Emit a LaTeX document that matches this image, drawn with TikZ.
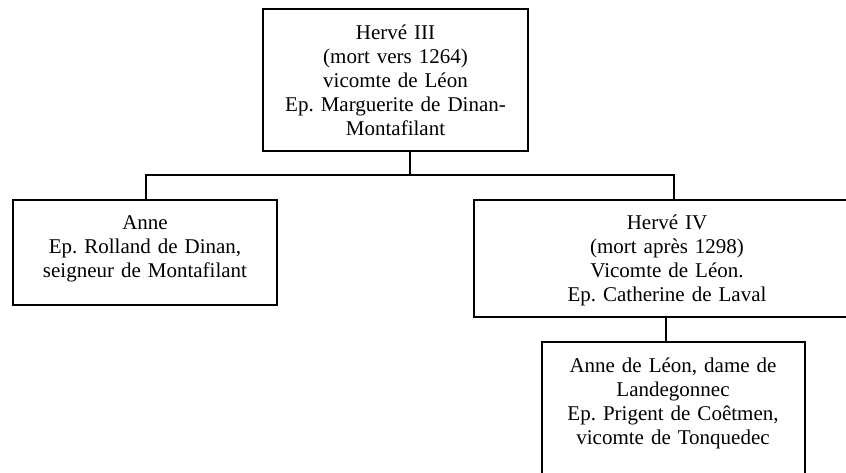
\documentclass[tikz,border=0pt]{standalone}
\usepackage{fontspec}
\setmainfont{Liberation Serif}
\frenchspacing
\begin{document}
\begin{tikzpicture}[x=1pt,y=-1pt,
  famille/.style={draw=black, line width=1.5pt, rectangle, inner sep=0pt, fill=none},
  nom/.style={anchor=base, inner sep=0pt, text width=300pt, align=center,
              font=\fontsize{21}{24}\selectfont},
  lien/.style={draw=black, line width=1.5pt}]
\useasboundingbox (0,0) rectangle (846,472);
\clip (0,0) rectangle (846,472);
\fill[white] (0,0) rectangle (846,472);

% Boxes of the family tree
\node[famille, minimum width=265pt, minimum height=142pt] (herve3) at (395.5,80) {};
\node[famille, minimum width=264pt, minimum height=105pt] (anne) at (145,252.5) {};
\node[famille, minimum width=386pt, minimum height=117pt] (herve4) at (667,258.5) {};
\node[famille, minimum width=263pt, minimum height=148pt] (anneleon) at (673.5,416) {};

% Names and titles
\node[nom] (t3) at (395.5,39) {Hervé III\\(mort vers 1264)\\vicomte de Léon\\Ep. Marguerite de Dinan-\\Montafilant};
\node[nom] (ta) at (145,229) {Anne\\Ep. Rolland de Dinan,\\seigneur de Montafilant};
\node[nom] (t4) at (667,229) {Hervé IV\\(mort après 1298)\\Vicomte de Léon.\\Ep. Catherine de Laval};
\node[nom] (tl) at (673,372) {Anne de Léon, dame de\\Landegonnec\\Ep. Prigent de Coêtmen,\\vicomte de Tonquedec};

% Descent lines
\coordinate (jt) at (410,175);
\coordinate (jl) at (146,175);
\coordinate (jr) at (674,175);
\coordinate (jd) at (666,330);
\draw[lien] (jt |- herve3.south) -- (jt);
\draw[lien] (jl |- anne.north) -- (jl) -- (jr) -- (jr |- herve4.north);
\draw[lien] (jd |- herve4.south) -- (jd |- anneleon.north);
\end{tikzpicture}
\end{document}
